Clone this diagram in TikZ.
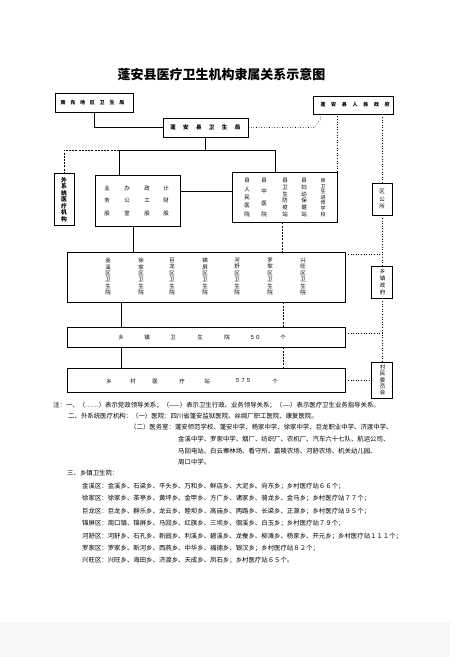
\documentclass[tikz,border=0pt]{standalone}
\usepackage{fontspec}
\setmainfont{Noto Sans CJK SC}
\usetikzlibrary{calc}
\tikzset{
  kuang/.style={draw, line width=0.8pt, inner sep=0pt},
  zi/.style={inner sep=0pt, font=\fontsize{5.5}{5.5}\selectfont},
  shu/.style 2 args={align=center, inner sep=0pt, font=\fontsize{#1}{#2}\selectfont},
  dang/.style={line width=0.6pt, dotted},
  xing/.style={line width=0.5pt},
  zhi/.style={line width=0.5pt, dash pattern=on 2pt off 1.2pt},
  zhu/.style={anchor=west, inner sep=0pt, font=\fontsize{6.4}{6.4}\selectfont}
}

\begin{document}
\begin{tikzpicture}[x=1pt, y=-1pt]
  \useasboundingbox (0,0) rectangle (450,657);
  \fill[black!3] (0,622) rectangle (450,657);
  \node[font=\fontsize{13}{13}\selectfont\bfseries] (biaoti) at (221.5,75) {蓬安县医疗卫生机构隶属关系示意图};

  % boxes
  \node[kuang, minimum width=78pt, minimum height=19pt] (nanchong) at (94,102.5) {};
  \node[kuang, minimum width=80pt, minimum height=18pt] (zf) at (353,105) {};
  \node[kuang, minimum width=85pt, minimum height=19pt] (wsj) at (205.5,127.5) {};
  \node[kuang, minimum width=20pt, minimum height=52pt] (waixi) at (64,199) {};
  \node[kuang, minimum width=85pt, minimum height=51pt] (jiguan) at (137.5,200.5) {};
  \node[kuang, minimum width=105pt, minimum height=50pt] (zhishu) at (284.5,197) {};
  \node[kuang, minimum width=20pt, minimum height=32pt] (qgs) at (382,199) {};
  \node[kuang, minimum width=278pt, minimum height=50pt] (qu) at (206,277) {};
  \node[kuang, minimum width=21pt, minimum height=32pt] (xzzf) at (382,282) {};
  \node[kuang, minimum width=278pt, minimum height=20pt] (xz) at (206,337) {};
  \node[kuang, minimum width=21pt, minimum height=36pt] (cwh) at (382,380) {};
  \node[kuang, minimum width=278pt, minimum height=24pt] (cyz) at (206,380) {};

  % texts in boxes
  \foreach \c [count=\i from 0] in {南,充,地,区,卫,生,局}
    \node[zi, font=\fontsize{5}{5}\selectfont\bfseries] (nc\i) at (63+9.8*\i, 102.5) {\c};
  \foreach \c [count=\i from 0] in {蓬,安,县,人,民,政,府}
    \node[zi, font=\fontsize{5}{5}\selectfont\bfseries] (zf\i) at (323+10.7*\i, 105) {\c};
  \foreach \c [count=\i from 0] in {蓬,安,县,卫,生,局}
    \node[zi, font=\fontsize{5.5}{5.5}\selectfont\bfseries] (wj\i) at (173+12.9*\i, 127.5) {\c};
  \node[shu={5.8}{6.5}, font=\fontsize{5.8}{6.5}\selectfont\bfseries] (wxt) at (64,199.5) {外\\系\\统\\医\\疗\\机\\构};
  \node[shu={5.5}{12.5}] (yw) at (107,200.5) {业\\务\\股};
  \node[shu={5.5}{12.5}] (bg) at (127,200.5) {办\\公\\室};
  \node[shu={5.5}{12.5}] (zg) at (147,200.5) {政\\工\\股};
  \node[shu={5.5}{12.5}] (jc) at (166,200.5) {计\\财\\股};
  \node[shu={5.5}{8.4}] (rmyy) at (247,197.5) {县\\人\\民\\医\\院};
  \node[shu={5.5}{11.2}] (zyy) at (264,197.5) {县\\中\\医\\院};
  \node[shu={5.5}{6.7}] (fyz) at (285,197.5) {县\\卫\\生\\防\\疫\\站};
  \node[shu={5.5}{6.7}] (fyb) at (304,197.5) {县\\妇\\幼\\保\\健\\站};
  \node[shu={5}{5.6}] (jxx) at (323,197.5) {县\\卫\\生\\进\\修\\学\\校};
  \node[shu={5.5}{7.5}] (qgst) at (382,199.5) {区\\公\\所};
  \node[shu={5.5}{7}] (xzt) at (382.5,281.5) {乡\\镇\\政\\府};
  \node[shu={5.5}{6.25}] (cwt) at (382.5,380) {村\\民\\委\\员\\会};
  \foreach \a/\b/\x in {金/溪/108, 徐/家/141, 巨/龙/172, 锦/屏/205, 河/舒/237, 罗/家/270, 兴/旺/303}
    \node[shu={5.5}{6.4}] (q\x) at (\x,276.5) {\a\\\b\\区\\卫\\生\\院};
  \foreach \c/\x in {乡/121, 镇/147, 卫/173, 生/200, 院/227, ５０/255, 个/283}
    \node[zi] (x\x) at (\x,337) {\c};
  \foreach \c/\x in {乡/109, 村/133, 医/155, 疗/182, 站/207, ５７５/243, 个/275}
    \node[zi] (c\x) at (\x,381) {\c};

  % connectors
  \draw[xing] (nanchong.south) |- (wsj.west);
  \draw[dang] (wsj.east) -- ++(66,0) -- ++(6,-8) coordinate (zk) -- (zk |- zf.south);
  \draw[dang] (zhishu.north east) -- (zhishu.north east |- zf.south);
  \draw[dang] (zf.south -| qgs.north) -- (qgs.north);
  \draw[dang] (qgs.south) -- (xzzf.north);
  \draw[dang] (xzzf.south) -- (cwh.north);
  \coordinate (bl) at (119,150);
  \coordinate (br) at (275,150);
  \draw[xing] (wsj.south) -- (wsj.south |- bl);
  \draw[xing] (jiguan.north -| bl) -- (bl) -- (br) -- (zhishu.north -| br);
  \draw[zhi] (bl) -| (waixi.north);
  \draw[xing] ([yshift=9pt]jiguan.east) -- ([yshift=9pt]jiguan.east -| zhishu.west);
  \draw[xing] ([xshift=-4.5pt]jiguan.south) -- ([xshift=-4.5pt]jiguan.south |- qu.north);
  \draw[zhi] ([xshift=-2.5pt]zhishu.south) -- ([xshift=-2.5pt]zhishu.south |- qu.north);
  \draw[dang] ([yshift=-3pt]qu.north east) -- ([yshift=-3pt]qu.north east -| qgs.south);
  \coordinate (zl) at (121,0);
  \coordinate (zr) at (283,0);
  \draw[xing] (qu.south -| zl) -- (xz.north -| zl);
  \draw[zhi] (qu.south -| zr) -- (xz.north -| zr);
  \draw[xing] (xz.south -| zl) -- (cyz.north -| zl);
  \draw[zhi] (xz.south -| zr) -- (cyz.north -| zr);
  \draw[dang] ([yshift=4pt]xz.east) -- ([yshift=4pt]xz.east -| cwh.north);
  \draw[dang] (cyz.east) -- (cyz.east -| cwh.west);

  % notes
  \node[zhu] (zhu1) at (53,405) {注：一、（……）表示党政领导关系；（——）表示卫生行政、业务领导关系；（----）表示医疗卫生业务指导关系。};
  \node[zhu] (zhu2) at (68,416) {二、外系统医疗机构：（一）医院：四川省蓬安监狱医院、丝绸厂职工医院、康复医院。};
  \node[zhu] (zhu3) at (130,427) {（二）医务室：蓬安师范学校、蓬安中学、杨家中学、徐家中学、巨龙职业中学、济渡中学、};
  \node[zhu] (zhu4) at (178,439) {金溪中学、罗家中学、烟厂、纺织厂、农机厂、汽车六十七队、航运公司、};
  \node[zhu] (zhu5) at (178,451) {马回电站、白云寨林场、看守所、嘉陵农场、河舒农场、机关幼儿园、};
  \node[zhu] (zhu6) at (178,462) {周口中学。};
  \node[zhu] (zhu7) at (67,473) {三、乡镇卫生院：};
  \foreach \t/\y [count=\i] in {
    金溪区：金溪乡、石梁乡、平头乡、万和乡、鲜店乡、大泥乡、向东乡；乡村医疗站６６个；/486,
    徐家区：徐家乡、茶亭乡、黄坪乡、金甲乡、方广乡、诸家乡、骑龙乡、金马乡；乡村医疗站７７个；/498,
    巨龙区：巨龙乡、群乐乡、龙云乡、睦坝乡、高庙乡、两路乡、长梁乡、正源乡；乡村医疗站９５个；/511,
    锦屏区：周口镇、锦屏乡、马回乡、红旗乡、三坝乡、徊溪乡、白玉乡；乡村医疗站７９个；/523,
    河舒区：河舒乡、石孔乡、新园乡、利溪乡、碧溪乡、龙蚕乡、柳滩乡、杨家乡、开元乡；乡村医疗站１１１个；/536,
    罗家区：罗家乡、新河乡、西燕乡、中华乡、福德乡、银汉乡；乡村医疗站８２个；/548,
    兴旺区：兴旺乡、海田乡、济渡乡、天成乡、凤石乡；乡村医疗站６５个。/560}
    \node[zhu] (xq\i) at (82,\y) {\t};
\end{tikzpicture}
\end{document}
